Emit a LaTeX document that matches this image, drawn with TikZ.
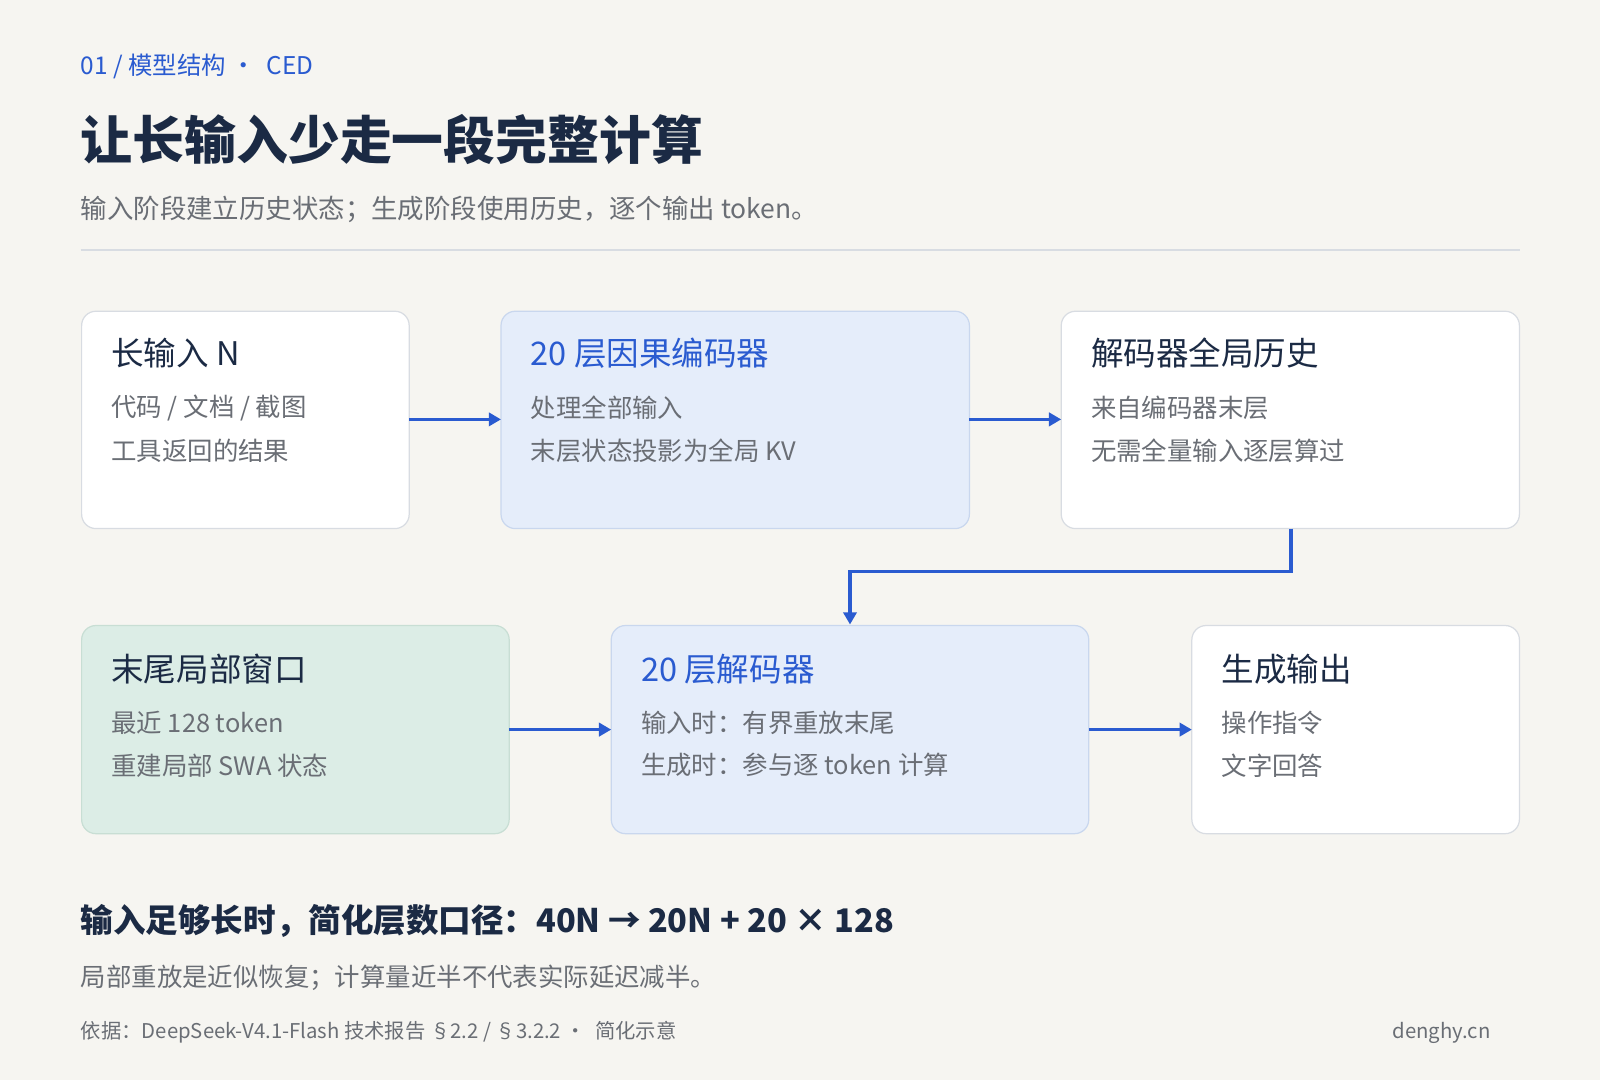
\documentclass[tikz,border=0pt]{standalone}
\usepackage{fontspec}
\setmainfont{Noto Sans CJK SC}
\usetikzlibrary{arrows.meta}
\definecolor{bg}{HTML}{F6F5F1}
\definecolor{navy}{HTML}{1B2A44}
\definecolor{accent}{HTML}{2A5BD0}
\definecolor{grayt}{HTML}{6A6E75}
\definecolor{bluef}{HTML}{E5EDFA}
\definecolor{blueb}{HTML}{C9D7EE}
\definecolor{greenf}{HTML}{DCEDE6}
\definecolor{greenb}{HTML}{C8DED4}
\definecolor{whiteb}{HTML}{D8DCE2}
\tikzset{
 box/.style={draw=whiteb,fill=white,line width=1.2bp,rounded corners=14bp},
 bbox/.style={box,draw=blueb,fill=bluef},
 gbox/.style={box,draw=greenb,fill=greenf},
 head/.style={anchor=west,inner sep=0,font=\fontsize{32}{36}\selectfont,text=navy},
 bhead/.style={head,text=accent},
 line/.style={anchor=west,inner sep=0,font=\fontsize{25}{28}\selectfont,text=grayt},
 conn/.style={draw=accent,line width=3.5bp,-{Triangle[length=12bp,width=13bp]}},
}
\begin{document}
\begin{tikzpicture}[x=1bp,y=-1bp]
\fill[bg] (0,0) rectangle (1568,1058);
\useasboundingbox (0,0) rectangle (1568,1058);
\node[anchor=west,inner sep=0,text=accent,font=\fontsize{24}{26}\selectfont] (kick) at (79,65) {01 / 模型结构 ·\ \ CED};
\node[anchor=west,inner sep=0,text=navy,font=\fontsize{51}{56}\selectfont\bfseries] (title) at (79,137) {让长输入少走一段完整计算};
\node[anchor=west,inner sep=0,text=grayt,font=\fontsize{26}{30}\selectfont] (sub) at (79,205) {输入阶段建立历史状态；生成阶段使用历史，逐个输出 token。};
\draw[draw=whiteb,line width=1.5bp] (79,245) -- (1490,245);
% row 1
\path[box] (80,305) rectangle (401,518);
\path[bbox] (491,305) rectangle (950,518);
\path[box] (1040,305) rectangle (1489,518);
\node[head] (h1) at (109,346) {长输入 N};
\node[line] at (109,400) {代码 / 文档 / 截图};
\node[line] at (109,442) {工具返回的结果};
\node[bhead] (h2) at (520,346) {20 层因果编码器};
\node[line] at (520,400) {处理全部输入};
\node[line] at (520,442) {末层状态投影为全局 KV};
\node[head] (h3) at (1069,346) {解码器全局历史};
\node[line] at (1069,400) {来自编码器末层};
\node[line] at (1069,442) {无需全量输入逐层算过};
% row 2
\path[gbox] (80,613) rectangle (499,817);
\path[bbox] (599,613) rectangle (1067,817);
\path[box] (1168,613) rectangle (1489,817);
\node[head] at (109,656) {末尾局部窗口};
\node[line] at (109,708) {最近 128 token};
\node[line] at (109,750) {重建局部 SWA 状态};
\node[bhead] at (628,656) {20 层解码器};
\node[line] at (628,708) {输入时：有界重放末尾};
\node[line] at (628,750) {生成时：参与逐 token 计算};
\node[head] at (1197,656) {生成输出};
\node[line] at (1197,708) {操作指令};
\node[line] at (1197,750) {文字回答};
% connectors
\coordinate (a1s) at (401,411); \coordinate (a1e) at (491,411);
\coordinate (a2s) at (950,411); \coordinate (a2e) at (1040,411);
\coordinate (a3s) at (1265,518); \coordinate (a3e) at (833,612);
\coordinate (a4s) at (499,715); \coordinate (a4e) at (599,715);
\coordinate (a5s) at (1067,715); \coordinate (a5e) at (1168,715);
\draw[conn] (a1s) -- (a1e);
\draw[conn] (a2s) -- (a2e);
\draw[conn] (a3s) -- (1265,560) -- (833,560) -- (a3e);
\draw[conn] (a4s) -- (a4e);
\draw[conn] (a5s) -- (a5e);
% bottom
\node[anchor=west,inner sep=0,text=navy,font=\fontsize{32}{36}\selectfont\bfseries] (sum) at (79,903) {输入足够长时，简化层数口径：40N → 20N + 20 × 128};
\node[anchor=west,inner sep=0,text=grayt,font=\fontsize{25}{28}\selectfont] (note) at (79,958) {局部重放是近似恢复；计算量近半不代表实际延迟减半。};
\node[anchor=west,inner sep=0,text=grayt,font=\fontsize{20}{22}\selectfont] (src) at (79,1012) {依据：DeepSeek-V4.1-Flash 技术报告 §2.2 / §3.2.2 ·\ \ 简化示意};
\node[anchor=east,inner sep=0,text=grayt,font=\fontsize{20}{22}\selectfont] (site) at (1461,1012) {denghy.cn};
\end{tikzpicture}
\end{document}
